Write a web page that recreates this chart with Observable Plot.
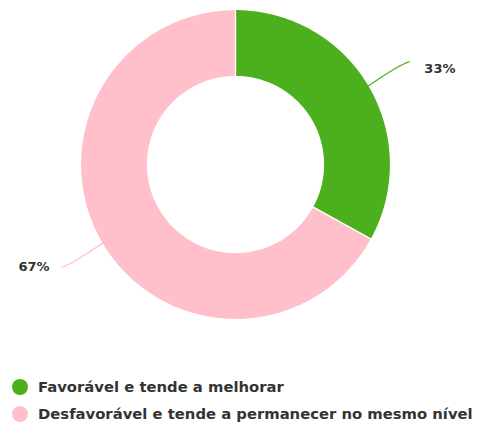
<!DOCTYPE html>
<html>
<head>
<meta charset="utf-8">
<script src="https://cdn.jsdelivr.net/npm/d3@7"></script>
<script src="https://cdn.jsdelivr.net/npm/@observablehq/plot@0.6"></script>
<style>
  html, body { margin: 0; padding: 0; background: #fff; }
  #chart { width: 477px; }
  .legend { font-family: "DejaVu Sans", sans-serif; font-weight: bold; font-size: 14.8px; color: #333; margin-top: 27px; }
  .legend .item { display: flex; align-items: center; height: 27px; padding-left: 12px; white-space: nowrap; }
  .legend .sw { width: 16px; height: 16px; border-radius: 50%; margin-right: 10px; flex: none; }
</style>
</head>
<body>
<div id="chart"></div>
<script>
const categories = ["Favorável e tende a melhorar", "Desfavorável e tende a permanecer no mesmo nível"];
const values = [33, 67];
const labels = ["33%", "67%"];
const colors = ["#4caf1e", "#ffc0cb"];

const W = 477, H = 346;
const cx = 235, cy = 164, R = 155, r0 = 88;
const total = d3.sum(values);

let acc = 0;
const slices = values.map((v, i) => {
  const a0 = acc / total * 2 * Math.PI;
  acc += v;
  const a1 = acc / total * 2 * Math.PI;
  return {i, a0, a1, mid: (a0 + a1) / 2};
});

const pt = (a, rad) => [cx + rad * Math.sin(a), cy - rad * Math.cos(a)];

const arcPts = [];
slices.forEach(s => {
  const n = 120;
  const pts = [];
  for (let k = 0; k <= n; k++) pts.push(pt(s.a0 + (s.a1 - s.a0) * k / n, R));
  for (let k = n; k >= 0; k--) pts.push(pt(s.a0 + (s.a1 - s.a0) * k / n, r0));
  pts.push(pts[0]);
  pts.forEach(p => arcPts.push({x: p[0], y: p[1], cat: categories[s.i]}));
});

const connPts = [];
const labelPts = [];
slices.forEach(s => {
  const right = Math.sin(s.mid) > 0;
  const p0 = pt(s.mid, R - 1);
  const p2 = pt(s.mid, R + 47);
  const c = pt(s.mid, R + 34);
  c[1] += right ? -3 : 3;
  const n = 24;
  for (let k = 0; k <= n; k++) {
    const t = k / n, u = 1 - t;
    connPts.push({
      x: u * u * p0[0] + 2 * u * t * c[0] + t * t * p2[0],
      y: u * u * p0[1] + 2 * u * t * c[1] + t * t * p2[1],
      cat: categories[s.i]
    });
  }
  labelPts.push({x: p2[0] + (right ? 15 : -12), y: p2[1] + (right ? 7 : 0), label: labels[s.i], anchor: right ? "start" : "end"});
});

const plot = Plot.plot({
  width: W, height: H,
  margin: 0,
  x: {domain: [0, W], range: [0, W], axis: null},
  y: {domain: [0, H], range: [0, H], axis: null},
  color: {domain: categories, range: colors},
  style: {background: "#fff"},
  marks: [
    Plot.line(arcPts, {x: "x", y: "y", z: "cat", fill: "cat", stroke: "#ffffff", strokeWidth: 1.2, curve: "linear"}),
    Plot.line(connPts, {x: "x", y: "y", z: "cat", stroke: "cat", strokeWidth: 1.2, curve: "linear"}),
    Plot.text(labelPts.filter(d => d.anchor === "start"), {x: "x", y: "y", text: "label", textAnchor: "start", fontFamily: "DejaVu Sans", fontWeight: "bold", fontSize: 13, fill: "#333"}),
    Plot.text(labelPts.filter(d => d.anchor === "end"), {x: "x", y: "y", text: "label", textAnchor: "end", fontFamily: "DejaVu Sans", fontWeight: "bold", fontSize: 13, fill: "#333"})
  ]
});
document.getElementById("chart").appendChild(plot);

const legend = document.createElement("div");
legend.className = "legend";
categories.forEach((c, i) => {
  const item = document.createElement("div");
  item.className = "item";
  const sw = document.createElement("span");
  sw.className = "sw";
  sw.style.background = colors[i];
  const t = document.createElement("span");
  t.textContent = c;
  item.appendChild(sw); item.appendChild(t);
  legend.appendChild(item);
});
document.getElementById("chart").appendChild(legend);
</script>
</body>
</html>
